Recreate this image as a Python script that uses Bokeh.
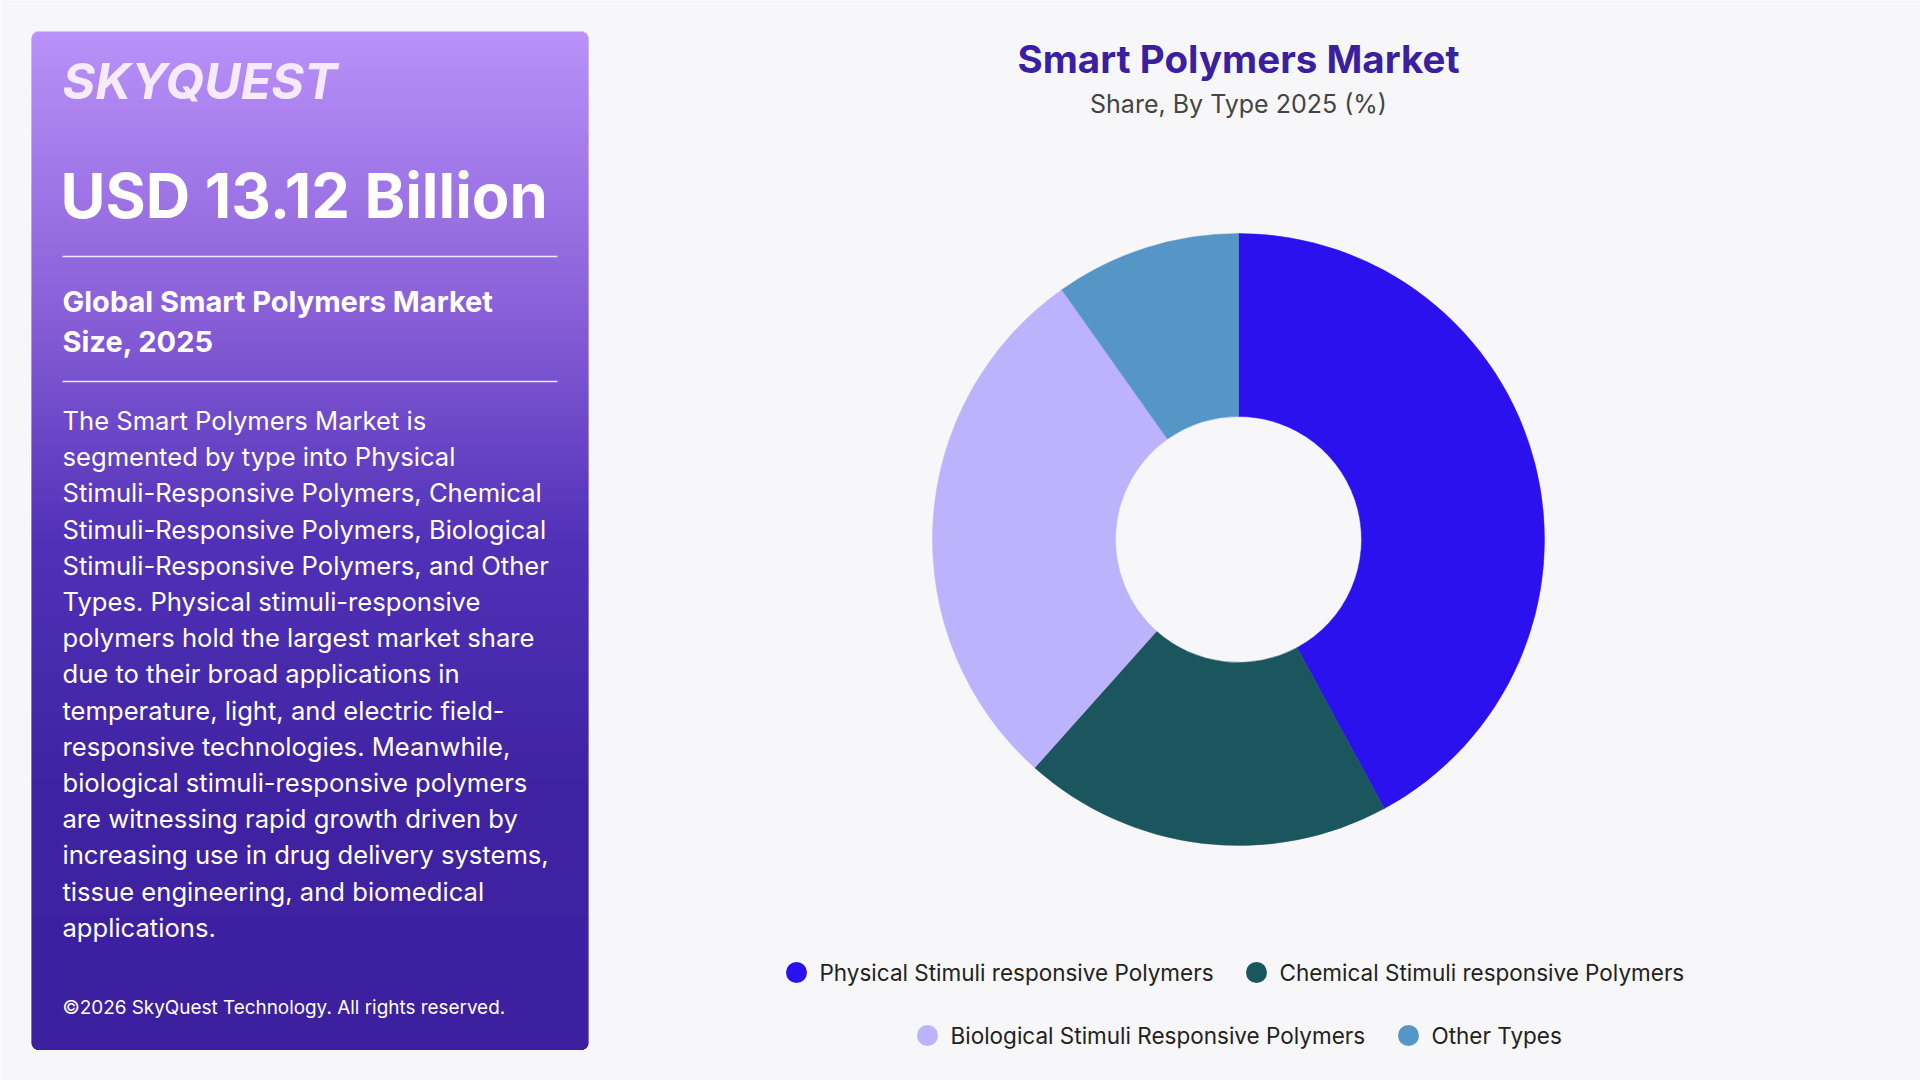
import numpy as np
from bokeh.plotting import figure
from bokeh.models import Range1d, ColumnDataSource
from bokeh.core.properties import value
from bokeh.embed import file_html
from bokeh.resources import INLINE

# ---------------- data ----------------
categories = ["Physical Stimuli responsive Polymers",
              "Chemical Stimuli responsive Polymers",
              "Biological Stimuli Responsive Polymers",
              "Other Types"]
shares = [42.1, 19.5, 28.6, 9.8]
colors = ["#2C11EF", "#1B555E", "#BCB3FC", "#5596C6"]

title = "Smart Polymers Market"
subtitle = "Share, By Type 2025 (%)"
headline = "USD 13.12 Billion"
sub_headline = ["Global Smart Polymers Market", "Size, 2025"]
paragraph = [
    "The Smart Polymers Market is",
    "segmented by type into Physical",
    "Stimuli-Responsive Polymers, Chemical",
    "Stimuli-Responsive Polymers, Biological",
    "Stimuli-Responsive Polymers, and Other",
    "Types. Physical stimuli-responsive",
    "polymers hold the largest market share",
    "due to their broad applications in",
    "temperature, light, and electric field-",
    "responsive technologies. Meanwhile,",
    "biological stimuli-responsive polymers",
    "are witnessing rapid growth driven by",
    "increasing use in drug delivery systems,",
    "tissue engineering, and biomedical",
    "applications.",
]
copyright_text = "\u00a92026 SkyQuest Technology. All rights reserved."

W, H = 1920, 1080
FONT = "Inter"
BG = "#F7F7FA"


def Y(ys):
    """screen-y (top-down) to data-y (bottom-up)"""
    return H - ys


p = figure(width=W, height=H, output_backend="svg", toolbar_location=None,
           x_range=Range1d(0, W), y_range=Range1d(0, H), min_border=0)
p.axis.visible = False
p.grid.visible = False
p.outline_line_color = None
p.background_fill_color = BG
p.border_fill_color = BG

# ---------------- left panel (gradient, rounded corners) ----------------
px0, px1, py0, py1 = 31, 588, 31, 1049
rad = 7
stops_y = [31, 300, 540, 780, 1049]
stops_c = [(186, 146, 249), (140, 98, 218), (82, 50, 184), (64, 36, 163), (60, 32, 160)]
edges = np.arange(py0, py1 + 1, 1.0)
lefts, rights, tops, bots, fills = [], [], [], [], []
for a, b in zip(edges[:-1], edges[1:]):
    m = (a + b) / 2
    r = int(np.interp(m, stops_y, [c[0] for c in stops_c]))
    g = int(np.interp(m, stops_y, [c[1] for c in stops_c]))
    bl = int(np.interp(m, stops_y, [c[2] for c in stops_c]))
    d = min(m - py0, py1 - m)
    inset = 0.0
    if d < rad:
        inset = rad - np.sqrt(max(rad ** 2 - (rad - d) ** 2, 0))
    lefts.append(px0 + inset); rights.append(px1 - inset)
    tops.append(Y(a)); bots.append(Y(b + 0.5))
    fills.append("#%02x%02x%02x" % (r, g, bl))
p.quad(left=lefts, right=rights, top=tops, bottom=bots, fill_color=fills, line_color=None)

# logo
p.text(x=[62], y=[Y(80)], text=["SKYQUEST"], text_font=value(FONT),
       text_font_size=value("50px"), text_font_style="bold italic",
       text_color="#F6EAFF", text_baseline="middle", text_align="left")

# headline
p.text(x=[60], y=[Y(195)], text=[headline], text_font=value(FONT),
       text_font_size=value("61.5px"), text_font_style="bold",
       text_color="#FFFFFF", text_baseline="middle", text_align="left")

# separators
p.segment(x0=[62, 62], x1=[557, 557], y0=[Y(256), Y(381)], y1=[Y(256), Y(381)],
          line_color="#FFFFFF", line_alpha=0.85, line_width=1.5)

# sub headline
p.text(x=[62, 62], y=[Y(301), Y(341)], text=sub_headline, text_font=value(FONT),
       text_font_size=value("29px"), text_font_style="bold",
       text_color="#FFFFFF", text_baseline="middle", text_align="left")

# paragraph
para_y = [Y(420 + i * 36.2) for i in range(len(paragraph))]
p.text(x=[62] * len(paragraph), y=para_y, text=paragraph, text_font=value(FONT),
       text_font_size=value("25.6px"), text_color="#FFFFFF",
       text_baseline="middle", text_align="left")

# copyright
p.text(x=[62], y=[Y(1007)], text=[copyright_text], text_font=value(FONT),
       text_font_size=value("18.9px"), text_color="#FFFFFF",
       text_baseline="middle", text_align="left")

# ---------------- title ----------------
cx = 1238
p.text(x=[cx], y=[Y(58)], text=[title], text_font=value(FONT),
       text_font_size=value("38.5px"), text_font_style="bold",
       text_color="#3A1FA0", text_baseline="middle", text_align="center")
p.text(x=[cx], y=[Y(103)], text=[subtitle], text_font=value(FONT),
       text_font_size=value("25px"), text_color="#444444",
       text_baseline="middle", text_align="center")

# ---------------- donut ----------------
vals = np.array(shares, dtype=float)
frac = vals / vals.sum()
cum = np.concatenate([[0], np.cumsum(frac)])
start = np.pi / 2 - cum[:-1] * 2 * np.pi
end = np.pi / 2 - cum[1:] * 2 * np.pi
src = ColumnDataSource(dict(cat=categories, val=shares, start=start, end=end, color=colors))
p.annular_wedge(x=cx, y=Y(539), inner_radius=123, outer_radius=306,
                start_angle="start", end_angle="end", direction="clock",
                fill_color="color", line_color="color", line_width=0.5, source=src)

# ---------------- legend (manual) ----------------
leg_marker_x = [796, 1256, 927, 1408]
leg_y = [Y(972), Y(972), Y(1035), Y(1035)]
p.scatter(x=leg_marker_x, y=leg_y, size=21, marker="circle",
          fill_color=colors, line_color=None)
p.text(x=[mx + 23 for mx in leg_marker_x], y=leg_y, text=categories,
       text_font=value(FONT), text_font_size=value("22.5px"), text_color="#222222",
       text_baseline="middle", text_align="left")

open("out.html", "w").write(file_html(p, INLINE))
